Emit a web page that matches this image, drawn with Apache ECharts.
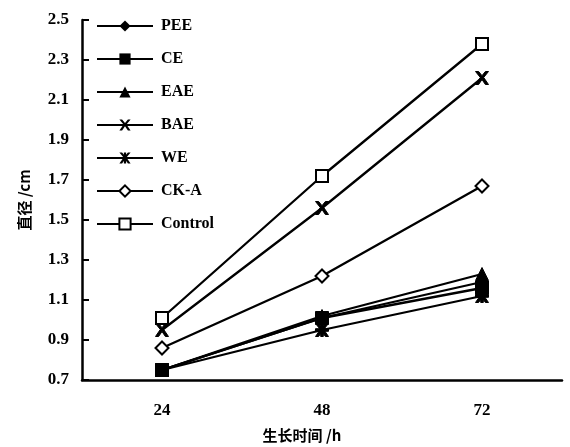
<!DOCTYPE html>
<html><head><meta charset="utf-8">
<script src="https://cdn.jsdelivr.net/npm/echarts@6/dist/echarts.min.js"></script>
<style>html,body{margin:0;padding:0;background:#fff}#c{width:570px;height:447px}</style>
</head><body><div id="c"></div>
<script>
const categories = ['24', '48', '72'];
const PEE = [0.75, 1.01, 1.19];
const CE = [0.75, 1.01, 1.16];
const EAE = [0.75, 1.02, 1.23];
const BAE = [0.95, 1.56, 2.21];
const WE = [0.75, 0.95, 1.12];
const CKA = [0.86, 1.22, 1.67];
const Control = [1.01, 1.72, 2.38];
const yTicks = { min: 0.7, max: 2.5, step: 0.2 };

const X_PATH = 'path://M0,0 L2.4,0 L5,3.2 L7.6,0 L10,0 L6.3,4.6 L10,10 L7.6,10 L5,6.2 L2.4,10 L0,10 L3.7,4.6 Z';
const STAR_PATH = 'path://M0,0 L2.4,0 L5,3.2 L7.6,0 L10,0 L6.3,4.6 L10,10 L7.6,10 L5,6.2 L2.4,10 L0,10 L3.7,4.6 Z M4,0 L6,0 L6,10 L4,10 Z M0,4 L10,4 L10,6 L0,6 Z';

const font = 'Liberation Serif';
function mk(name, data, symbol, size, hollow) {
  return {
    name, type: 'line', data, symbol, symbolSize: size,
    showAllSymbol: true,
    lineStyle: { color: '#000', width: 2.3 },
    itemStyle: hollow ? { color: '#fff', borderColor: '#000', borderWidth: 2 } : { color: '#000', borderColor: '#000' },
    emphasis: { disabled: true }
  };
}
const series = [
  mk('PEE', PEE, 'diamond', 14, false),
  mk('CE', CE, 'rect', 13, false),
  mk('EAE', EAE, 'triangle', 13, false),
  mk('BAE', BAE, X_PATH, 13, false),
  mk('WE', WE, STAR_PATH, 13, false),
  mk('CK-A', CKA, 'diamond', 13, true),
  mk('Control', Control, 'rect', 12, true)
];
const chart = echarts.init(document.getElementById('c'), null, { renderer: 'canvas' });
chart.setOption({
  animation: false,
  backgroundColor: '#fff',
  grid: { left: 82, right: 8, top: 20, bottom: 67, containLabel: false, outerBoundsMode: 'none' },
  legend: {
    orient: 'vertical', left: 91, top: 13, itemWidth: 56, itemHeight: 14, itemGap: 17,
    textStyle: { fontFamily: font, fontWeight: 'bold', fontSize: 16, color: '#000', padding: [0, 0, 0, 3] },
    inactiveColor: '#000'
  },
  xAxis: {
    type: 'category', data: categories, boundaryGap: true,
    name: '生长时间 /h', nameLocation: 'middle', nameGap: 48,
    nameTextStyle: { fontFamily: 'Noto Sans CJK SC', fontWeight: 'bold', fontSize: 15, color: '#000', padding: [0, 40, 0, 0] },
    axisLine: { lineStyle: { color: '#000', width: 2.5 } },
    axisTick: { inside: true, length: 6, lineStyle: { color: '#000', width: 2 } },
    axisLabel: { fontFamily: font, fontWeight: 'bold', fontSize: 17, color: '#000', margin: 22 },
    splitLine: { show: false }
  },
  yAxis: {
    type: 'value', min: yTicks.min, max: yTicks.max, interval: yTicks.step,
    name: '直径 /cm', nameLocation: 'middle', nameGap: 50, nameRotate: 90,
    nameTextStyle: { fontFamily: 'Noto Sans CJK SC', fontWeight: 'bold', fontSize: 15, color: '#000' },
    axisLine: { show: true, lineStyle: { color: '#000', width: 2.5 } },
    axisTick: { show: true, inside: true, length: 7, lineStyle: { color: '#000', width: 2 } },
    axisLabel: { fontFamily: font, fontWeight: 'bold', fontSize: 17, color: '#000', margin: 13,
      formatter: v => Number(v).toFixed(1) },
    splitLine: { show: false }
  },
  series
});
</script></body></html>
